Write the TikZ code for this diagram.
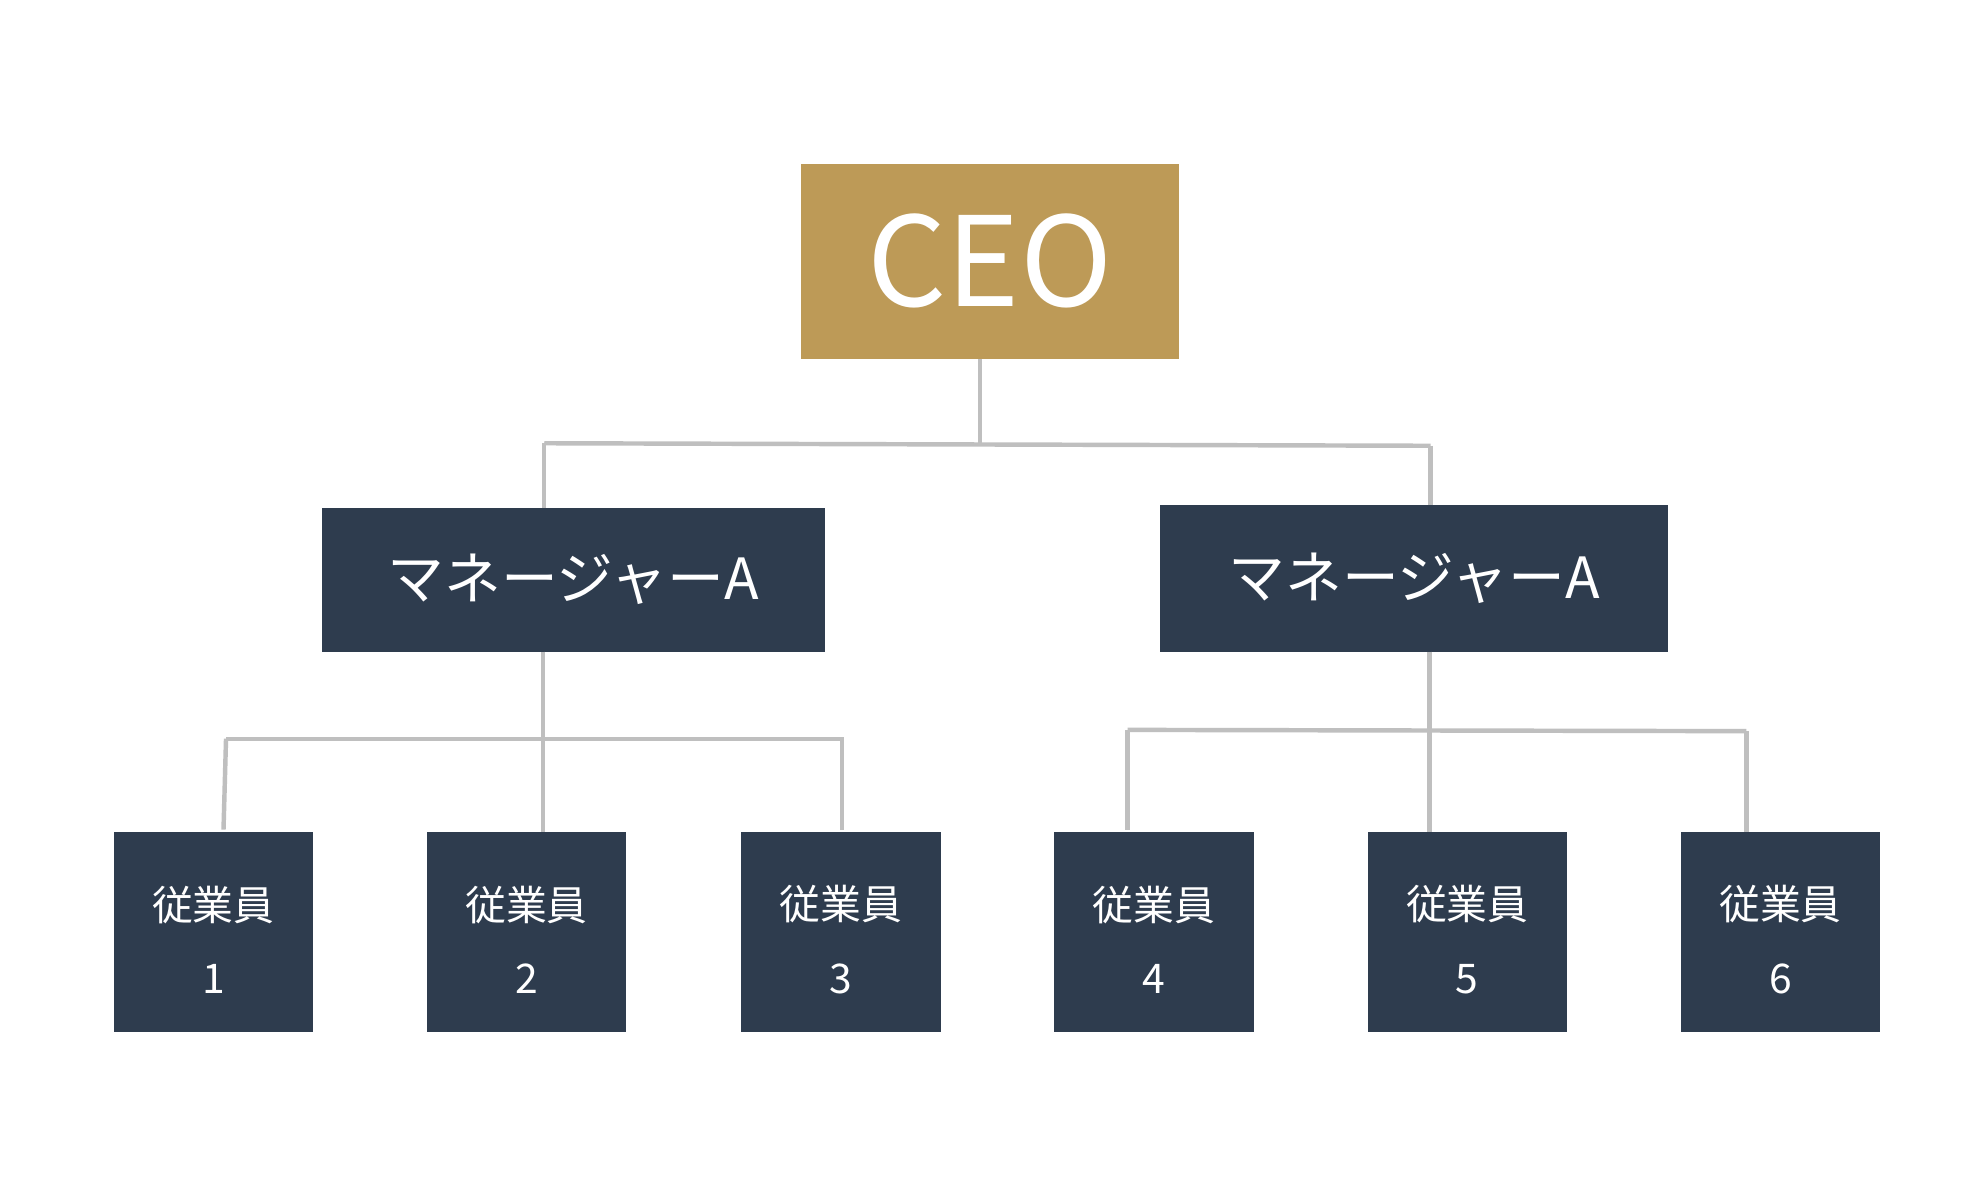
\documentclass[tikz,border=0pt]{standalone}
\usepackage{fontspec}
\setmainfont{Noto Sans CJK JP}
\begin{document}
\begin{tikzpicture}[x=0.01cm,y=-0.01cm,
  ceobox/.style={fill=ceo,text=white,inner sep=0,font=\fontsize{28}{30}\selectfont},
  mgrbox/.style={fill=navy,text=white,inner sep=0,font=\fontsize{12.8}{14}\selectfont},
  empbox/.style={fill=navy,text=white,inner sep=0,align=center,font=\fontsize{9.2}{16.5}\selectfont},
  conn/.style={draw=linegray,line width=1pt}]
\definecolor{ceo}{HTML}{BD9A57}
\definecolor{navy}{HTML}{2E3C4E}
\definecolor{linegray}{HTML}{BFBFBF}
\useasboundingbox (0,0) rectangle (1568,935);
\fill[white] (0,0) rectangle (1568,935);
\path[fill=ceo] (634,130) rectangle (934,284);
\node[ceobox] (ceo) at (784,207) {CEO};
\path[fill=navy] (255,402) rectangle (653,516);
\node[mgrbox] (m1) at (454,459) {マネージャーA};
\path[fill=navy] (919,400) rectangle (1321,516);
\node[mgrbox] (m2) at (1120,458) {マネージャーA};
\foreach \i/\x in {1/90,2/338,3/587,4/835,5/1083,6/1331}{
  \path[fill=navy] (\x,659) rectangle ++(158,158);
  \node[empbox] (e\i) at (\x+79,744) {従業員\\\i};
}
\coordinate (c0) at (776,284);
\coordinate (c1) at (776,351);
\coordinate (cl) at (431,351);
\coordinate (cr) at (1133,353);
\draw[conn] (c0) -- (c1);
\draw[conn] (cl) -- (cr);
\draw[conn] (cl) -- (431,402);
\draw[conn] (cr) -- (1133,400);
\draw[conn] (430,516) -- (430,659);
\draw[conn] (179,585) -- (668,585);
\draw[conn] (179,585) -- (177,657);
\draw[conn] (667,585) -- (667,657);
\draw[conn] (1132,516) -- (1132,659);
\draw[conn] (893,578) -- (1383,579);
\draw[conn] (893,578) -- (893,657);
\draw[conn] (1383,579) -- (1383,659);
\end{tikzpicture}
\end{document}
